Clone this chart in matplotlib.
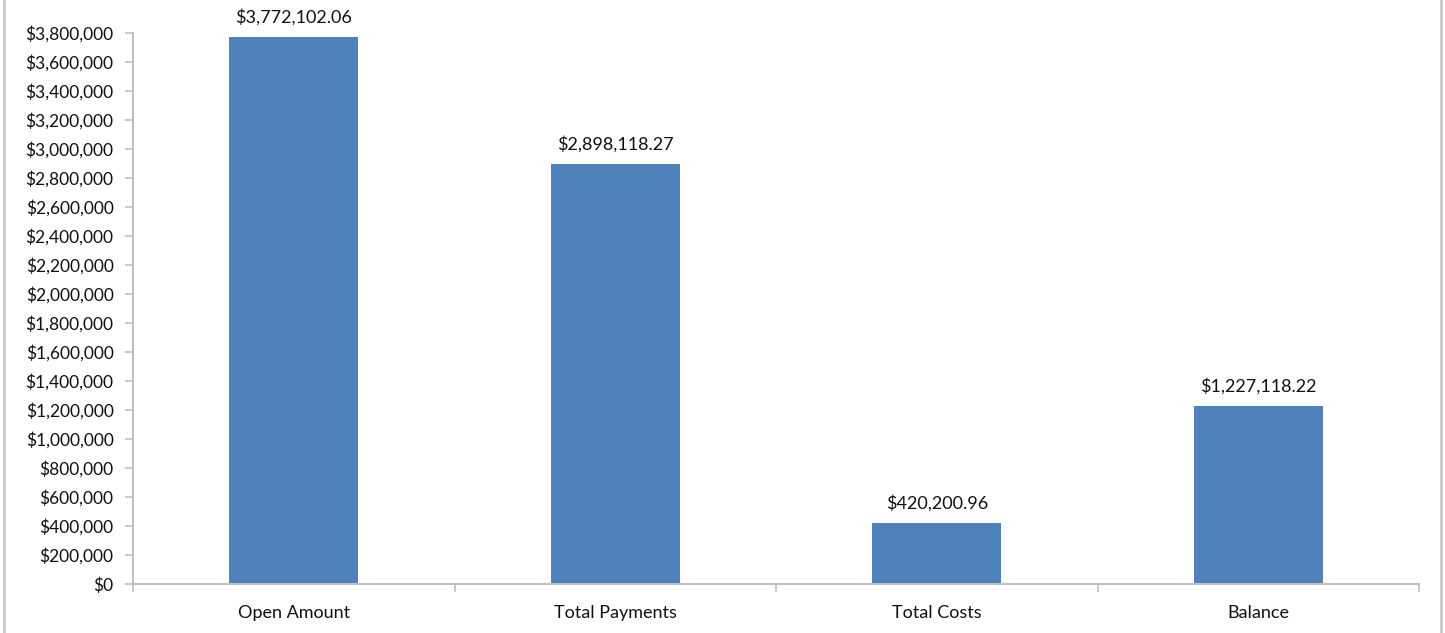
import matplotlib.pyplot as plt
from matplotlib.lines import Line2D

categories = ["Open Amount", "Total Payments", "Total Costs", "Balance"]
amounts = [3772102.06, 2898118.27, 420200.96, 1227118.22]
y_ticks = list(range(0, 3800001, 200000))

plt.rcParams['font.family'] = ['Lato', 'DejaVu Sans']

fig = plt.figure(figsize=(14.45, 6.33), dpi=100)
ax = fig.add_axes([133 / 1445, 1 - 584 / 633, (1419 - 133) / 1445, (584 - 33) / 633])

x = list(range(len(categories)))
ax.bar(x, amounts, width=0.4, color='#4F81BD')

for xi, v in zip(x, amounts):
    ax.annotate(f"${v:,.2f}", (xi, v), xytext=(0, 8), textcoords='offset points',
                ha='center', va='bottom', fontsize=13, color='#111111')

ax.set_xlim(-0.5, len(categories) - 0.5)
ax.set_ylim(0, 3800000)
ax.set_yticks(y_ticks)
ax.set_yticklabels([f"${t:,}" for t in y_ticks])
ax.set_xticks(x)
ax.set_xticklabels(categories)
ax.set_xticks([i - 0.5 for i in range(len(categories) + 1)], minor=True)

ax.tick_params(axis='y', length=6, width=1.2, color='#C0C0C0', labelsize=12.5,
               labelcolor='#111111', pad=8)
ax.tick_params(axis='x', which='major', length=0, labelsize=13,
               labelcolor='#111111', pad=15)
ax.tick_params(axis='x', which='minor', length=6, width=1.2, color='#C0C0C0')

for s in ['top', 'right']:
    ax.spines[s].set_visible(False)
for s in ['left', 'bottom']:
    ax.spines[s].set_color('#C0C0C0')
    ax.spines[s].set_linewidth(1.5)

# chart frame edges
fig.add_artist(Line2D([4 / 1445, 4 / 1445], [0, 1], color='#C8C8C8', lw=2))
fig.add_artist(Line2D([1441 / 1445, 1441 / 1445], [0, 1], color='#C8C8C8', lw=2))

fig.savefig("out.png", dpi=100)
